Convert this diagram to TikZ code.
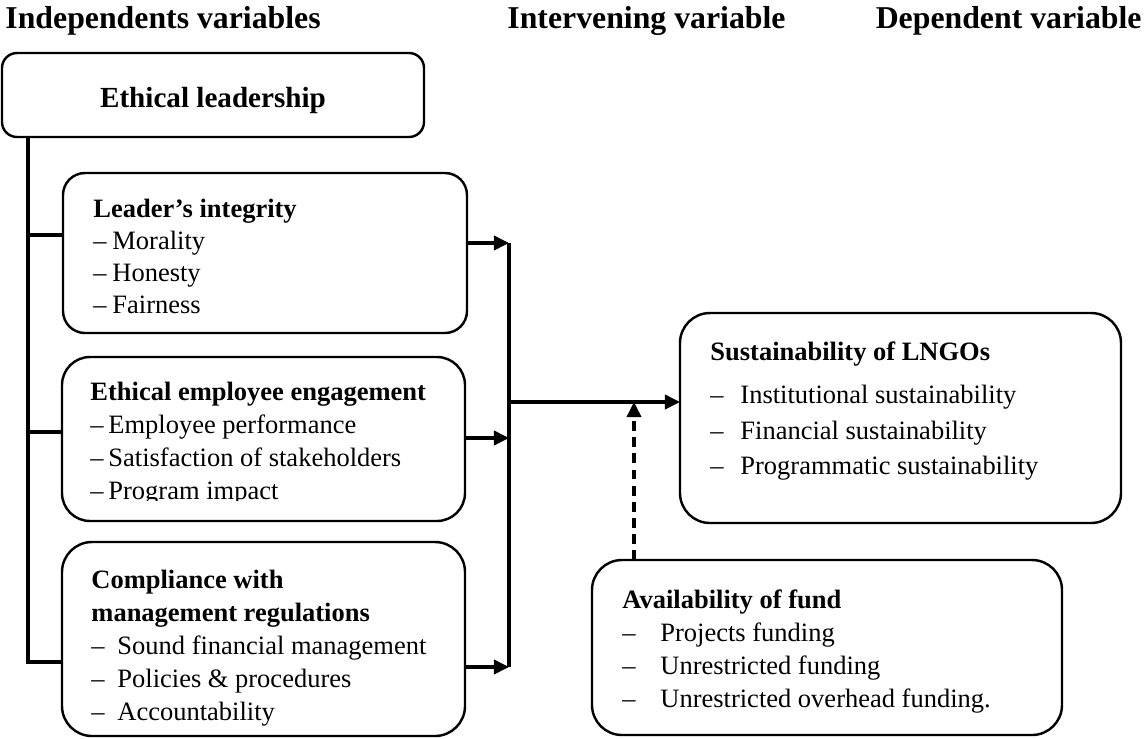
\documentclass[tikz,border=0pt]{standalone}
\usepackage{fontspec}
\setmainfont{Liberation Serif}
\usetikzlibrary{arrows.meta}
\newlength{\pxu}
\setlength{\pxu}{0.453pt}
\newcommand{\dashitem}[2]{\makebox[#1][l]{--}#2}

\begin{document}
\begin{tikzpicture}[x=0.453pt, y=-0.453pt,
  box/.style={draw, line width=1.1pt, rounded corners=28*\pxu, inner sep=0pt, outer sep=0pt, anchor=north west},
  txt/.style={anchor=north west, inner sep=0pt, align=left},
  head/.style={inner sep=0pt, font=\fontsize{14.4}{17}\selectfont\bfseries},
  link/.style={line width=1.5pt},
  arr/.style={line width=1.5pt, -{Triangle[length=6.8pt, width=6.4pt]}}]
\useasboundingbox (0,0) rectangle (1145,738);
\node[head, anchor=base west] (hind) at (5,28) {Independents variables};
\node[head, anchor=base west] (hint) at (507,28) {Intervening variable};
\node[head, anchor=base east] (hdep) at (1142,28) {Dependent variable};
\node[box, rounded corners=15*\pxu, minimum width=422*\pxu, minimum height=84*\pxu] (lead) at (2,53) {};
\node[box, rounded corners=22*\pxu, minimum width=404*\pxu, minimum height=160*\pxu] (lint) at (63,173) {};
\node[box, minimum width=403*\pxu, minimum height=164*\pxu] (eng) at (62,357) {};
\node[box, rounded corners=30*\pxu, minimum width=403*\pxu, minimum height=194*\pxu] (comp) at (62,542) {};
\node[box, rounded corners=30*\pxu, minimum width=441*\pxu, minimum height=210*\pxu] (sust) at (680,313) {};
\node[box, rounded corners=30*\pxu, minimum width=470*\pxu, minimum height=175*\pxu] (fund) at (592,560) {};
\node[anchor=base, inner sep=0pt, font=\fontsize{13.2}{16}\selectfont\bfseries] (lead-t) at (213,107) {Ethical leadership};
\node[txt, font=\fontsize{12}{14.5}\selectfont] (lint-t) at (93,194.6)
  {\strut\textbf{Leader's integrity}\\ \dashitem{19\pxu}{Morality}\\ \dashitem{19\pxu}{Honesty}\\ \dashitem{19\pxu}{Fairness}};
\begin{scope}
\clip (0,0) rectangle (1145,500);
\node[txt, font=\fontsize{12}{15}\selectfont] (eng-t) at (90,376.8)
  {\strut\textbf{Ethical employee engagement}\\ \dashitem{18\pxu}{Employee performance}\\ \dashitem{18\pxu}{Satisfaction of stakeholders}\\ \dashitem{18\pxu}{Program impact}};
\end{scope}
\node[txt, font=\fontsize{12}{15}\selectfont] (comp-t) at (91,564.8)
  {\strut\textbf{Compliance with}\\ \textbf{management regulations}\\ \dashitem{26\pxu}{Sound financial management}\\ \dashitem{26\pxu}{Policies \& procedures}\\ \dashitem{26\pxu}{Accountability}};
\node[txt, font=\fontsize{12}{16}\selectfont] (sust-t) at (710,335.3)
  {\strut\textbf{Sustainability of LNGOs}\\[3.6pt] \dashitem{30\pxu}{Institutional sustainability}\\ \dashitem{30\pxu}{Financial sustainability}\\ \dashitem{30\pxu}{Programmatic sustainability}};
\node[txt, font=\fontsize{12}{15}\selectfont] (fund-t) at (622,584.8)
  {\strut\textbf{Availability of fund}\\ \dashitem{38\pxu}{Projects funding}\\ \dashitem{38\pxu}{Unrestricted funding}\\ \dashitem{38\pxu}{Unrestricted overhead funding.}};
\coordinate (s1) at (28,235);
\coordinate (s2) at (28,432);
\coordinate (s3) at (28,662);
\coordinate (b1) at (509,243);
\coordinate (b2) at (509,438);
\coordinate (b3) at (509,667);
\coordinate (hub) at (509,402);
\coordinate (up) at (634,402);
\draw[link] (lead.south -| s1) -- (s3) -- (s3 -| comp.west);
\draw[link] (s1) -- (s1 -| lint.west);
\draw[link] (s2) -- (s2 -| eng.west);
\draw[link] (b1) -- (b3);
\draw[arr] (b1 -| lint.east) -- (b1);
\draw[arr] (b2 -| eng.east) -- (b2);
\draw[arr] (b3 -| comp.east) -- (b3);
\draw[arr] (hub) -- (hub -| sust.west);
\draw[arr, dash pattern=on 4.5pt off 2.8pt] (up |- fund.north) -- (up);
\end{tikzpicture}
\end{document}
